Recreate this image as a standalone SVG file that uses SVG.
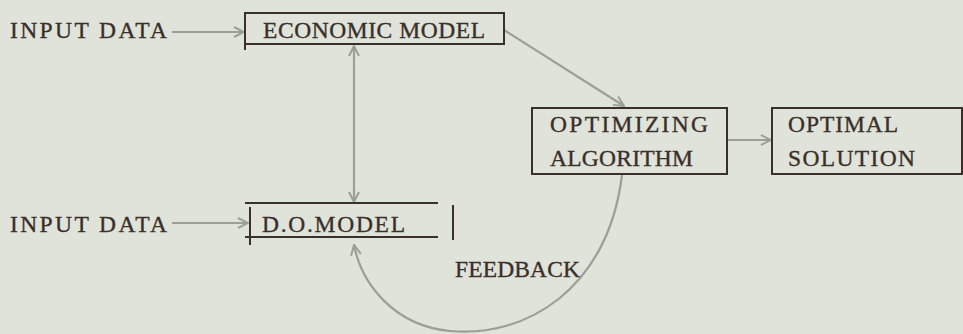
<svg xmlns="http://www.w3.org/2000/svg" width="963" height="334" viewBox="0 0 963 334">
<defs>
<style>
.t{font-family:"Liberation Serif","DejaVu Serif",serif;font-size:23.5px;fill:#3a2f29;stroke:#3a2f29;stroke-width:0.35;}
.box{fill:none;stroke:#3a2f29;stroke-width:2;}
.c{fill:none;stroke:#9c9f96;stroke-width:2.2;}
</style>
<marker id="ah" viewBox="0 0 12 12" refX="11" refY="6" markerWidth="12" markerHeight="12" markerUnits="userSpaceOnUse" orient="auto-start-reverse">
<path d="M1,1 L11,6 L1,11" fill="none" stroke="#9c9f96" stroke-width="2"/>
</marker>
</defs>
<rect width="963" height="334" fill="#dfe3da"/>
<g id="connectors">
<line class="c" x1="172" y1="32" x2="244" y2="32" marker-end="url(#ah)"/>
<line class="c" x1="172" y1="223" x2="248" y2="223" marker-end="url(#ah)"/>
<line class="c" x1="354" y1="46" x2="354" y2="202" marker-start="url(#ah)" marker-end="url(#ah)"/>
<line class="c" x1="504" y1="30" x2="624" y2="106" marker-end="url(#ah)"/>
<line class="c" x1="727" y1="140" x2="771" y2="140" marker-end="url(#ah)"/>
<path class="c" d="M622,175 C608,290 525,338 450,331 C395,326 362,285 354,245" marker-end="url(#ah)"/>
</g>
<g id="input1"><text class="t" x="10" y="38" textLength="157" lengthAdjust="spacing">INPUT DATA</text></g>
<g id="input2"><text class="t" x="10" y="232" textLength="157" lengthAdjust="spacing">INPUT DATA</text></g>
<g id="economic-model">
<rect class="box" x="245" y="13" width="259" height="31"/>
<line class="box" x1="245" y1="44" x2="245" y2="50"/>
<text class="t" x="263" y="38" textLength="222" lengthAdjust="spacing">ECONOMIC MODEL</text>
</g>
<g id="do-model">
<line class="box" x1="245" y1="203" x2="438" y2="203"/>
<line class="box" x1="245" y1="237" x2="438" y2="237"/>
<line class="box" x1="250" y1="207" x2="250" y2="245"/>
<line class="box" x1="453" y1="205" x2="453" y2="240"/>
<text class="t" x="262" y="232" textLength="143" lengthAdjust="spacing">D.O.MODEL</text>
</g>
<g id="optimizing-algorithm">
<rect class="box" x="532" y="108" width="195" height="66"/>
<text class="t" x="550" y="132" textLength="158" lengthAdjust="spacing">OPTIMIZING</text>
<text class="t" x="550" y="166" textLength="143" lengthAdjust="spacing">ALGORITHM</text>
</g>
<g id="optimal-solution">
<rect class="box" x="772" y="108" width="190" height="66"/>
<text class="t" x="788" y="132" textLength="110" lengthAdjust="spacing">OPTIMAL</text>
<text class="t" x="788" y="166" textLength="127" lengthAdjust="spacing">SOLUTION</text>
</g>
<g id="feedback-label"><text class="t" x="455" y="277" textLength="125" lengthAdjust="spacing">FEEDBACK</text></g>
</svg>
